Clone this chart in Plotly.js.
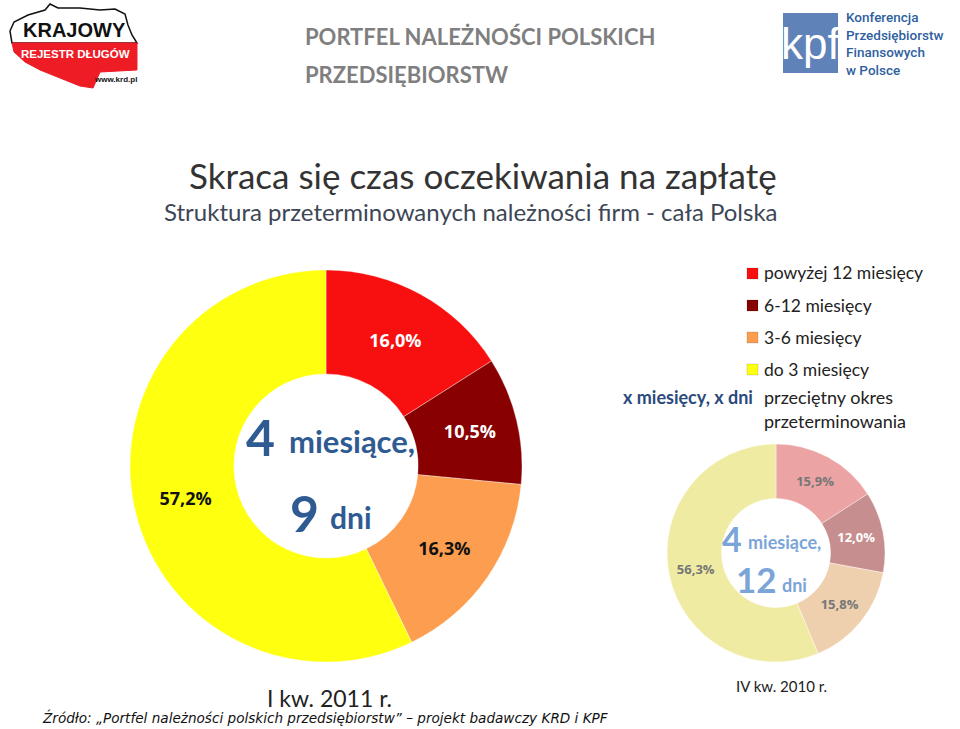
<!DOCTYPE html>
<html><head><meta charset="utf-8">
<script src="https://cdn.plot.ly/plotly-3.0.1.min.js"></script>
<style>html,body{margin:0;padding:0;background:#fff}#chart{width:960px;height:729px}</style>
</head><body><div id="chart"></div>
<script>
// ---- data ----
const categories = ['powyżej 12 miesięcy', '6-12 miesięcy', '3-6 miesięcy', 'do 3 miesięcy'];
const valuesQ1_2011 = [16.0, 10.5, 16.3, 57.2];
const valuesQ4_2010 = [15.9, 12.0, 15.8, 56.3];
const periodQ1_2011 = 'I kw. 2011 r.';
const periodQ4_2010 = 'IV kw. 2010 r.';
const avgQ1_2011 = ['4', 'miesiące,', '9', 'dni'];
const avgQ4_2010 = ['4', 'miesiące,', '12', 'dni'];

// ---- styles ----
const colorsMain = ['#f80f0f', '#880000', '#fc9d4f', '#ffff10'];
const colorsFaded = ['#eca3a3', '#c68e8e', '#efd0ae', '#efeba2'];
const FONT = 'Lato, "Open Sans", sans-serif';
const W = 960, H = 729;
const px = x => x / W, py = y => 1 - y / H;

const traces = [
  {
    type: 'pie', values: valuesQ1_2011, labels: categories, sort: false,
    direction: 'clockwise', rotation: 0, hole: 0.47,
    domain: {x: [px(128), px(524)], y: [py(662), py(270)]},
    marker: {colors: colorsMain, line: {color: 'rgba(255,255,255,0.35)', width: 1}},
    texttemplate: '%{value:.1f}%', textposition: 'inside', insidetextorientation: 'horizontal',
    textfont: {family: '"Open Sans", sans-serif', size: 18, weight: 700, color: ['#ffffff', '#ffffff', '#111111', '#111111']},
    hoverinfo: 'label+value', showlegend: false
  },
  {
    type: 'pie', values: valuesQ4_2010, labels: categories, sort: false,
    direction: 'clockwise', rotation: 0, hole: 0.5,
    domain: {x: [px(666), px(886)], y: [py(662), py(444)]},
    marker: {colors: colorsFaded, line: {color: 'rgba(255,255,255,0.4)', width: 1}},
    texttemplate: '%{value:.1f}%', textposition: 'inside', insidetextorientation: 'horizontal',
    textfont: {family: '"Open Sans", sans-serif', size: 13, weight: 700, color: ['#777777', '#ffffff', '#777777', '#777777']},
    hoverinfo: 'label+value', showlegend: false
  }
];

const annotations = [];
const shapes = [];
function txt(x, y, text, size, color, opts) {
  annotations.push(Object.assign({
    x: px(x), y: py(y), xref: 'paper', yref: 'paper', text: text, showarrow: false,
    xanchor: 'center', yanchor: 'middle',
    font: {family: FONT, size: size, color: color}
  }, opts || {}));
}

// header
txt(303, 37, '<b>PORTFEL NALEŻNOŚCI POLSKICH</b>', 22, '#7f7f7f', {xanchor: 'left'});
txt(303, 75, '<b>PRZEDSIĘBIORSTW</b>', 22, '#7f7f7f', {xanchor: 'left'});
txt(483, 175, 'Skraca się czas oczekiwania na zapłatę', 35, '#333333');
txt(471, 212, 'Struktura przeterminowanych należności firm - cała Polska', 24, '#3d4656');

// centre texts big
const blue = '#2f5b93';
txt(260, 437, '<b>' + avgQ1_2011[0] + '</b>', 50, blue);
txt(352, 441, '<b>' + avgQ1_2011[1] + '</b>', 31, blue);
txt(304, 513, '<b>' + avgQ1_2011[2] + '</b>', 50, blue);
txt(351, 517, '<b>' + avgQ1_2011[3] + '</b>', 30, blue);
// centre texts small
const lblue = '#7ba4d8';
txt(732, 538, '<b>' + avgQ4_2010[0] + '</b>', 34, lblue);
txt(784, 542, '<b>' + avgQ4_2010[1] + '</b>', 18, lblue);
txt(756, 579, '<b>' + avgQ4_2010[2] + '</b>', 35, lblue);
txt(794, 585, '<b>' + avgQ4_2010[3] + '</b>', 18, lblue);

// period labels
txt(329, 698, periodQ1_2011, 23, '#222222');
txt(781, 686, periodQ4_2010, 15, '#222222');
// source
txt(325, 717, '<i>Źródło: „Portfel należności polskich przedsiębiorstw” – projekt badawczy KRD i KPF</i>', 13.6, '#111111', {font: {family: '"DejaVu Sans", Verdana, sans-serif', size: 13.6, color: '#111111'}});

// legend
const legY = [273, 305, 337, 369];
categories.forEach((c, i) => {
  shapes.push({type: 'rect', xref: 'paper', yref: 'paper', x0: px(747), x1: px(758), y0: py(legY[i] + 6), y1: py(legY[i] - 5),
    fillcolor: colorsMain[i], line: {color: 'rgba(0,0,0,0.25)', width: 0.5}});
  txt(762, legY[i], c, 17.5, '#222222', {xanchor: 'left'});
});
txt(755, 397, '<b>x miesięcy, x dni</b>', 18, '#2a4a7c', {xanchor: 'right'});
txt(762, 397, 'przeciętny okres', 18, '#222222', {xanchor: 'left'});
txt(762, 421, 'przeterminowania', 18, '#222222', {xanchor: 'left'});

// KRD logo (decorative)
function pathFrom(pts) {
  return 'M ' + pts.map(p => px(p[0]).toFixed(4) + ',' + py(p[1]).toFixed(4)).join(' L ') + ' Z';
}
const mapTop = [[12,43],[10,31],[14,22],[28,15],[45,10],[50,4],[58,8],[80,8],[100,10],[115,9],[125,14],[128,25],[132,35],[137,43]];
const mapBottom = [[12,43],[137,43],[137,70],[100,72],[93,88],[80,86],[60,78],[40,70],[25,62],[14,52]];
shapes.push({type: 'path', xref: 'paper', yref: 'paper', path: pathFrom(mapTop), fillcolor: '#ffffff', line: {color: '#111111', width: 1.5}});
shapes.push({type: 'path', xref: 'paper', yref: 'paper', path: pathFrom(mapBottom), fillcolor: '#ee1c25', line: {color: '#ee1c25', width: 1}});
txt(74, 30, '<b>KRAJOWY</b>', 20, '#111111', {font: {family: '"Liberation Sans", Arial, sans-serif', size: 20, color: '#111111'}});
txt(75, 54, '<b>REJESTR DŁUGÓW</b>', 11.5, '#ffffff', {font: {family: '"Liberation Sans", Arial, sans-serif', size: 11.5, color: '#ffffff'}});
txt(115, 80, '<b>www.krd.pl</b>', 8, '#111111', {font: {family: '"Liberation Sans", Arial, sans-serif', size: 8, color: '#111111'}});

// KPF logo (decorative)
shapes.push({type: 'rect', xref: 'paper', yref: 'paper', x0: px(783), x1: px(838), y0: py(73), y1: py(13), fillcolor: '#5f82b8', line: {width: 0}});
txt(810, 44, 'kpf', 44, '#ffffff', {font: {family: '"Liberation Sans Narrow", "Liberation Sans", sans-serif', size: 44, color: '#ffffff'}});
const kpfLines = ['Konferencja', 'Przedsiębiorstw', 'Finansowych', 'w Polsce'];
txt(845, 44, kpfLines.join('<br>'), 13.5, '#2f5f9f', {xanchor: 'left', align: 'left', borderpad: 0,
  font: {family: 'Roboto, sans-serif', size: 13.5, weight: 500, color: '#2f5f9f'}});

const layout = {
  width: W, height: H, margin: {l: 0, r: 0, t: 0, b: 0},
  paper_bgcolor: '#ffffff', plot_bgcolor: '#ffffff',
  separators: ', ', showlegend: false,
  font: {family: FONT},
  annotations: annotations, shapes: shapes
};
Plotly.newPlot('chart', traces, layout, {displayModeBar: false, staticPlot: true});
</script></body></html>
